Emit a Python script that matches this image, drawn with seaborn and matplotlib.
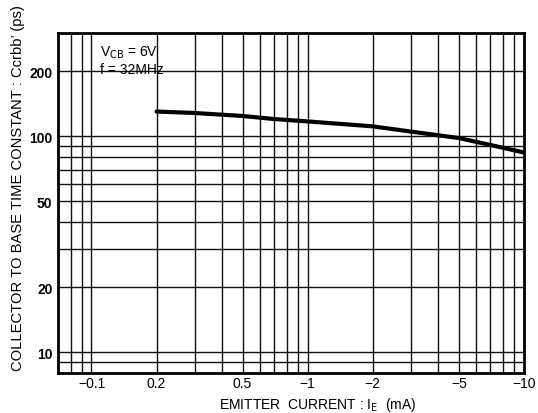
import numpy as np
import pandas as pd
import matplotlib
matplotlib.use("Agg")
import matplotlib.pyplot as plt
import seaborn as sns

# Data
current_ma = [0.2, 0.3, 0.5, 0.7, 1, 2, 3, 4, 5, 7, 10]
time_const_ps = [130, 128, 124, 120, 117, 111, 105, 101, 98, 91, 84]

x_ticks = [0.1, 0.2, 0.5, 1, 2, 5, 10]
x_tick_labels = ["\u22120.1", "0.2", "0.5", "\u22121", "\u22122", "\u22125", "\u221210"]
y_ticks = [10, 20, 50, 100, 200]
y_tick_labels = ["10", "20", "50", "100", "200"]

x_grid = [0.08, 0.09, 0.1, 0.2, 0.3, 0.4, 0.5, 0.6, 0.7, 0.8, 0.9, 1, 2, 3, 4, 5, 6, 7, 8, 9]
y_grid = [9, 10, 20, 30, 40, 50, 60, 70, 80, 90, 100, 200]

df = pd.DataFrame({"IE": current_ma, "C": time_const_ps})

sns.set_theme(style="white")
plt.rcParams["font.family"] = ["Liberation Sans", "DejaVu Sans"]

fig = plt.figure(figsize=(5.38, 4.14), dpi=100)
ax = fig.add_axes([0.1078, 0.0966, 0.866, 0.821])

ax.set_xscale("log")
ax.set_yscale("log")
ax.set_xlim(0.07, 10)
ax.set_ylim(8, 300)

for xv in x_grid:
    ax.axvline(xv, color="#111111", lw=1.0, zorder=1)
for yv in y_grid:
    ax.axhline(yv, color="#111111", lw=1.0, zorder=1)

sns.lineplot(data=df, x="IE", y="C", ax=ax, color="black", lw=3.0, zorder=3)

ax.set_xticks(x_ticks)
ax.set_xticklabels(x_tick_labels, fontsize=10)
ax.set_yticks(y_ticks)
ax.set_yticklabels(y_tick_labels, fontsize=10, fontweight="bold")
ax.minorticks_off()
ax.tick_params(axis="y", length=0, pad=4, colors="black")
ax.tick_params(axis="x", length=0, pad=2, colors="black")
ax.set_xlabel("")
ax.set_ylabel("")

for s in ax.spines.values():
    s.set_visible(True)
    s.set_color("black")
    s.set_linewidth(2.0)

ax.text(0.09, 0.945, r"V$_{\rm CB}$ = 6V", transform=ax.transAxes, fontsize=10,
        va="center", ha="left", color="black")
ax.text(0.09, 0.895, "f = 32MHz", transform=ax.transAxes, fontsize=10,
        va="center", ha="left", color="black")

fig.text(0.034, 0.546, "COLLECTOR TO BASE TIME CONSTANT : Ccrbb\u2019 (ps)",
         rotation=90, ha="center", va="center", fontsize=10.6, color="black")
fig.text(0.59, 0.022, "EMITTER  CURRENT : I$_{\\rm E}$  (mA)",
         ha="center", va="center", fontsize=10, color="black")

fig.savefig("out.png", dpi=100)
